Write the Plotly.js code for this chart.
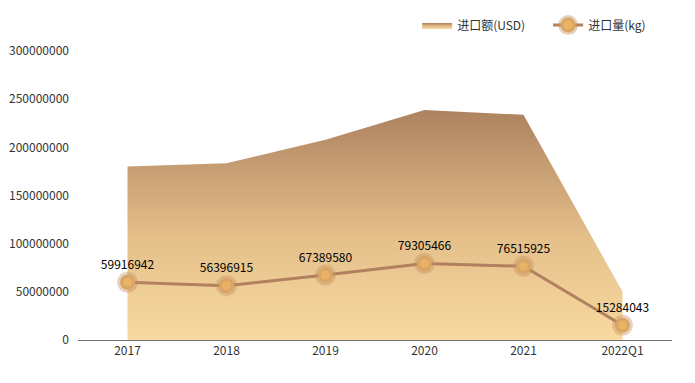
<!DOCTYPE html>
<html>
<head>
<meta charset="utf-8">
<script src="https://cdn.plot.ly/plotly-3.0.1.min.js"></script>
<style>html,body{margin:0;padding:0;background:#fff;}#chart{width:695px;height:383px;}</style>
</head>
<body>
<div id="chart"></div>
<script>
const categories = ['2017', '2018', '2019', '2020', '2021', '2022Q1'];
const importValueUSD = [180000000, 183500000, 208000000, 238700000, 233800000, 50000000];
const importWeightKg = [59916942, 56396915, 67389580, 79305466, 76515925, 15284043];
const seriesNames = ['进口额(USD)', '进口量(kg)'];
const yTicks = [0, 50000000, 100000000, 150000000, 200000000, 250000000, 300000000];

const font = {family: '"Noto Sans CJK SC", "Microsoft YaHei", sans-serif', size: 12, color: '#333'};

const area = {
  x: categories, y: importValueUSD, name: seriesNames[0],
  type: 'scatter', mode: 'lines', fill: 'tozeroy',
  line: {width: 0, color: '#c9a07a'},
  fillgradient: {type: 'vertical', colorscale: [[0, '#f8daa0'], [0.45, '#e4bf8a'], [1, '#ad8260']]},
  hoverinfo: 'x+y'
};
const line = {
  x: categories, y: importWeightKg, name: seriesNames[1],
  type: 'scatter', mode: 'lines+markers+text',
  text: importWeightKg.map(String), textposition: 'top center',
  textfont: {family: font.family, size: 12, color: '#000'},
  line: {width: 3, color: '#b0805f'},
  marker: {size: 15, color: '#e9b365', line: {width: 6, color: 'rgba(195,145,100,0.42)'}},
  cliponaxis: false
};

const layout = {
  width: 695, height: 383,
  margin: {l: 78, r: 23, t: 50, b: 43},
  paper_bgcolor: '#fff', plot_bgcolor: '#fff',
  font: font,
  showlegend: true,
  legend: {orientation: 'h', x: 1.012, xanchor: 'right', y: 1.086, yanchor: 'middle', font: {family: font.family, size: 12, color: '#333'}, itemwidth: 30, entrywidth: 86, entrywidthmode: 'pixels'},
  xaxis: {type: 'category', range: [-0.5, 5.5], showgrid: false, zeroline: false, showline: true, linecolor: '#6e7079', linewidth: 1, ticks: '', tickfont: {family: font.family, size: 12, color: '#333'}, fixedrange: true},
  yaxis: {range: [0, 300000000], tickvals: yTicks, ticktext: yTicks.map(String), showgrid: false, zeroline: false, showline: false, ticks: '', tickfont: {family: font.family, size: 12, color: '#333'}, ticklabelstandoff: 8, fixedrange: true}
};

Plotly.newPlot('chart', [area, line], layout, {displayModeBar: false, staticPlot: true});
</script>
</body>
</html>
